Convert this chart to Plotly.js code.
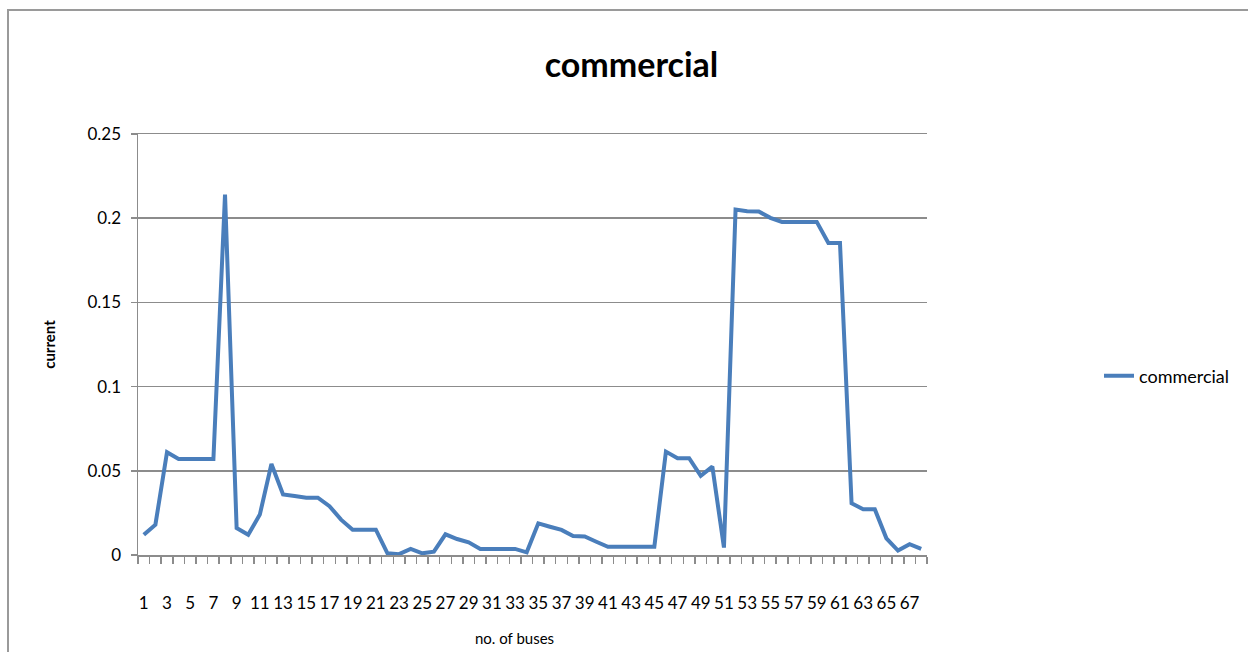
<!DOCTYPE html>
<html>
<head>
<meta charset="utf-8">
<script src="https://cdn.plot.ly/plotly-3.0.1.min.js"></script>
<style>
  html, body { margin: 0; padding: 0; background: #ffffff; }
  #wrap { position: relative; width: 1248px; height: 652px; overflow: hidden; }
  #chart { position: absolute; left: 0; top: 0; width: 1248px; height: 652px; }
  /* sheet frame around the embedded chart */
  #frame { position: absolute; left: 7px; top: 9px; width: 1260px; height: 700px;
           border-top: 2px solid #9a9a9a; border-left: 2px solid #9a9a9a;
           pointer-events: none; }
</style>
</head>
<body>
<div id="wrap">
  <div id="chart"></div>
  <div id="frame"></div>
</div>
<script>
// bus numbers along the feeder
const buses = [1, 2, 3, 4, 5, 6, 7, 8, 9, 10, 11, 12, 13, 14, 15, 16, 17, 18, 19, 20,
  21, 22, 23, 24, 25, 26, 27, 28, 29, 30, 31, 32, 33, 34, 35, 36, 37, 38, 39, 40,
  41, 42, 43, 44, 45, 46, 47, 48, 49, 50, 51, 52, 53, 54, 55, 56, 57, 58, 59, 60,
  61, 62, 63, 64, 65, 66, 67, 68];

// branch current, commercial load
const commercial = [0.012, 0.018, 0.061, 0.057, 0.057, 0.057, 0.057, 0.214, 0.016, 0.012,
  0.024, 0.054, 0.036, 0.035, 0.034, 0.034, 0.029, 0.021, 0.015, 0.015,
  0.015, 0.001, 0.0005, 0.0036, 0.001, 0.002, 0.0123, 0.0095, 0.0075, 0.0036,
  0.0036, 0.0036, 0.0036, 0.0016, 0.0188, 0.0168, 0.0149, 0.0113, 0.011, 0.0079,
  0.0049, 0.0049, 0.0049, 0.0049, 0.0049, 0.0614, 0.0575, 0.0575, 0.047, 0.0525,
  0.0044, 0.2051, 0.2041, 0.204, 0.2002, 0.1978, 0.1978, 0.1978, 0.1978, 0.1853,
  0.1853, 0.0307, 0.0272, 0.0272, 0.0099, 0.0026, 0.0064, 0.0036];

// labelled ticks: every other bus
const tickBuses = [1, 3, 5, 7, 9, 11, 13, 15, 17, 19, 21, 23, 25, 27, 29, 31, 33, 35,
  37, 39, 41, 43, 45, 47, 49, 51, 53, 55, 57, 59, 61, 63, 65, 67];

const FONT = 'Lato, "Open Sans", sans-serif';

const trace = {
  x: buses,
  y: commercial,
  type: 'scatter',
  mode: 'lines',
  name: 'commercial',
  line: { color: '#4a7ebb', width: 4 },
  hoverinfo: 'x+y'
};

const layout = {
  width: 1248,
  height: 652,
  margin: { l: 138, r: 321, t: 134, b: 97 },
  paper_bgcolor: '#ffffff',
  plot_bgcolor: '#ffffff',
  font: { family: FONT, color: '#000000', size: 16 },
  title: {
    text: '<b>commercial</b>',
    font: { family: FONT, size: 34, color: '#000000' },
    x: 0.506, xanchor: 'center', xref: 'container',
    y: 0.9, yanchor: 'middle', yref: 'container'
  },
  xaxis: {
    type: 'linear',
    range: [0.5, 68.5],
    tickmode: 'array',
    tickvals: tickBuses,
    ticktext: tickBuses.map(String),
    ticks: '',
    tickangle: 0,
    automargin: false,
    ticklabelstandoff: 32,
    tickfont: { family: FONT, size: 17, color: '#000000' },
    showgrid: false,
    zeroline: false,
    showline: true,
    mirror: true,
    linecolor: '#8c8c8c',
    linewidth: 1.5,
    minor: { tick0: 0.5, dtick: 1, ticks: 'outside', ticklen: 7, tickcolor: '#8c8c8c', tickwidth: 1.5, showgrid: false },
    fixedrange: true
  },
  yaxis: {
    range: [0, 0.25],
    tick0: 0,
    dtick: 0.05,
    ticks: 'outside',
    ticklen: 6,
    tickcolor: '#8c8c8c',
    tickwidth: 1.5,
    automargin: false,
    ticklabelstandoff: 6,
    tickfont: { family: FONT, size: 17, color: '#000000' },
    showgrid: true,
    gridcolor: '#8c8c8c',
    gridwidth: 1.5,
    zeroline: false,
    showline: true,
    linecolor: '#8c8c8c',
    linewidth: 1.5,
    title: { text: '<b>current</b>', font: { family: FONT, size: 15, color: '#000000' }, standoff: 28 },
    fixedrange: true
  },
  annotations: [{
    text: 'no. of buses',
    xref: 'paper', yref: 'paper',
    x: 0.477, y: -0.197,
    xanchor: 'center', yanchor: 'middle',
    showarrow: false,
    font: { family: FONT, size: 15, color: '#000000' }
  }],
  showlegend: true,
  legend: {
    x: 1.218, xanchor: 'left',
    y: 0.425, yanchor: 'middle',
    font: { family: FONT, size: 18, color: '#000000' },
    bgcolor: 'rgba(0,0,0,0)'
  }
};

Plotly.newPlot('chart', [trace], layout, { displayModeBar: false, staticPlot: true });
</script>
</body>
</html>
